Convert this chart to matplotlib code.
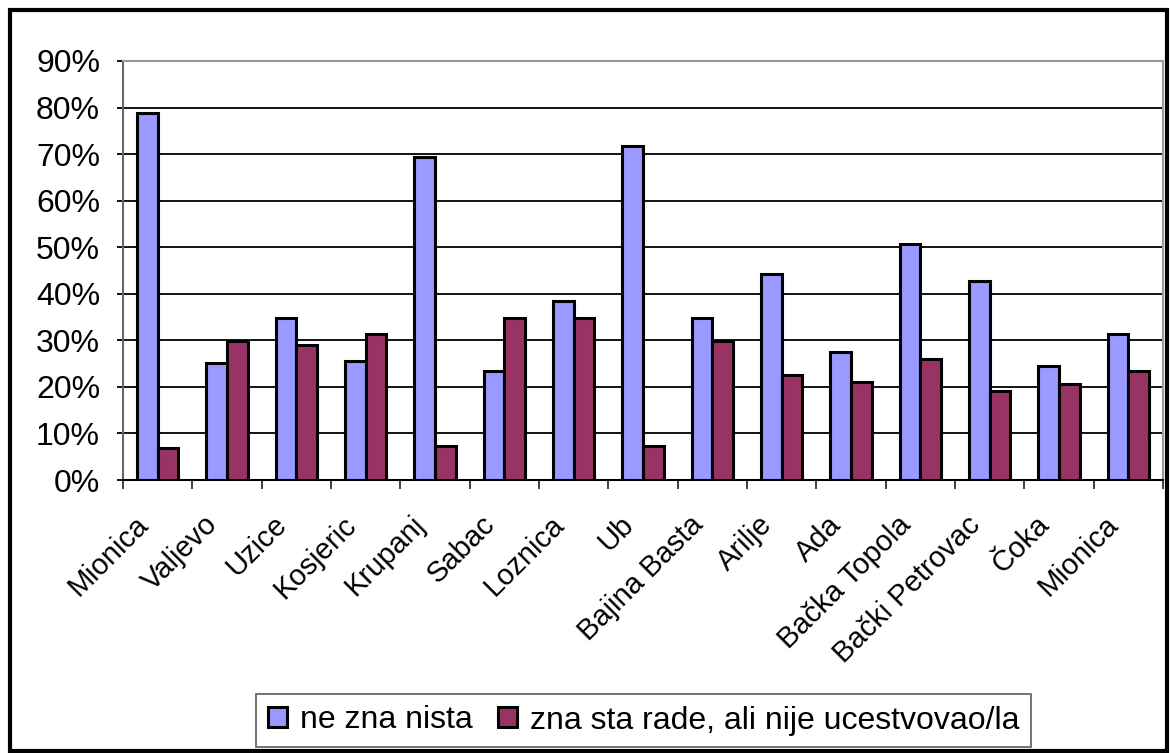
import matplotlib
matplotlib.use("Agg")
import matplotlib.pyplot as plt
from matplotlib.ticker import FuncFormatter
from matplotlib.patches import Rectangle
from matplotlib.transforms import ScaledTranslation
import numpy as np

cities = ["Mionica", "Valjevo", "Uzice", "Kosjeric", "Krupanj", "Sabac", "Loznica", "Ub",
          "Bajina Basta", "Arilje", "Ada", "Bačka Topola", "Bački Petrovac", "Čoka", "Mionica"]
ne_zna = [78.8, 25.1, 34.9, 25.5, 69.4, 23.5, 38.4, 71.8, 34.9, 44.3, 27.5, 50.6, 42.8, 24.5, 31.4]
zna_sta = [6.8, 29.9, 29.1, 31.4, 7.3, 34.9, 34.9, 7.3, 29.9, 22.6, 21.0, 26.0, 19.2, 20.6, 23.5]

plt.rcParams['font.family'] = ['Liberation Sans', 'DejaVu Sans']

fig = plt.figure(figsize=(11.7, 7.53), dpi=100)
ax = fig.add_axes([123 / 1170, 1 - 480 / 753, (1163 - 123) / 1170, (480 - 61) / 753])

x = np.arange(len(cities))
w = 0.3
ax.bar(x - w / 2, ne_zna, w, color="#9999ff", edgecolor="black", linewidth=2.2,
       label="ne zna nista", zorder=3)
ax.bar(x + w / 2, zna_sta, w, color="#993366", edgecolor="black", linewidth=2.2,
       label="zna sta rade, ali nije ucestvovao/la", zorder=3)

ax.set_xlim(-0.5, len(cities) - 0.5)
ax.set_ylim(0, 90)
ax.set_yticks(range(0, 91, 10))
ax.yaxis.set_major_formatter(FuncFormatter(lambda v, p: "%d%%" % v))
ax.grid(axis="y", color="black", linewidth=1.3, zorder=0)
ax.tick_params(axis="y", labelsize=23, length=4.5, width=1.3, direction="out", pad=12)

ax.set_xticks(np.arange(-0.5, len(cities), 1.0))
ax.set_xticklabels([])
ax.tick_params(axis="x", length=6.5, width=1.3, direction="out", color="#333333")
ax.set_xticks(x, minor=True)
ax.set_xticklabels(cities, minor=True, rotation=45, ha="right", va="center",
                   rotation_mode="anchor", fontsize=21)
ax.tick_params(axis="x", which="minor", length=0, pad=29)
shift = ScaledTranslation(-14 / 100, 0, fig.dpi_scale_trans)
for lab in ax.get_xticklabels(minor=True):
    lab.set_transform(lab.get_transform() + shift)

ax.spines["top"].set_color("#999999")
ax.spines["right"].set_color("#999999")
ax.spines["left"].set_color("#666666")
ax.spines["bottom"].set_color("black")
for s in ax.spines.values():
    s.set_linewidth(1.5)

leg = fig.legend(loc="center", bbox_to_anchor=(643.5 / 1170, 1 - 720.5 / 753), ncol=2,
                 fontsize=23, frameon=True, fancybox=False, edgecolor="#333333",
                 handlelength=0.6, handleheight=0.6, handletextpad=0.4,
                 columnspacing=0.8, borderpad=0.35, borderaxespad=0)
leg.get_frame().set_linewidth(1.2)

fig.patches.append(Rectangle((10 / 1170, 0.002), 1157 / 1170, 1 - 12 / 753,
                             transform=fig.transFigure, fill=False,
                             edgecolor="black", linewidth=3))

fig.savefig("out.png", dpi=100)
